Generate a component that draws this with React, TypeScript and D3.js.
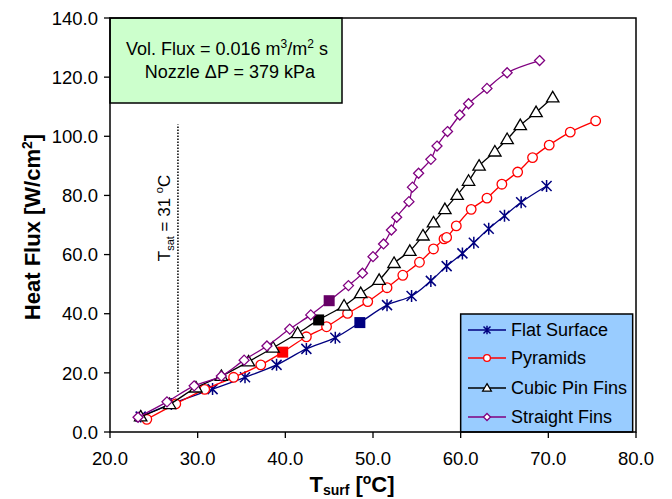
import React from "react";
import * as d3 from "d3";

// series: [T_surf, heat flux]
const flatT = [23.5, 27.0, 31.7, 35.4, 39.0, 42.4, 45.7, 48.5, 51.6, 54.4, 56.6, 58.4, 60.2, 61.5, 63.2, 65.0, 66.9, 69.8];
const flatQ = [5.2, 9.5, 14.5, 18.5, 22.7, 28.1, 31.9, 37.0, 42.9, 46.0, 51.1, 56.1, 60.4, 64.0, 68.7, 73.1, 77.7, 83.2];

const pyrT = [24.2, 27.5, 30.8, 34.1, 37.2, 39.7, 42.4, 44.7, 47.1, 49.4, 51.6, 53.4, 55.3, 56.9, 58.1, 58.4, 59.5, 61.2, 63.0, 64.7, 66.5, 68.2, 70.1, 72.5, 75.4];
const pyrQ = [4.3, 9.5, 14.4, 18.5, 22.7, 27.0, 32.2, 35.6, 40.1, 44.1, 48.8, 53.0, 57.4, 61.9, 65.3, 65.8, 69.7, 75.3, 79.1, 83.8, 87.9, 92.8, 97.0, 101.4, 105.2];

const pinT = [23.5, 26.8, 29.8, 32.7, 35.8, 38.6, 41.4, 43.8, 46.7, 48.6, 50.7, 52.4, 54.2, 55.7, 56.9, 58.2, 59.6, 60.9, 62.1, 63.9, 65.3, 66.8, 68.6, 70.5];
const pinQ = [5.2, 9.4, 15.0, 18.9, 23.8, 28.5, 33.4, 37.9, 42.7, 46.9, 51.4, 57.1, 61.2, 66.4, 70.8, 75.3, 80.1, 84.9, 90.0, 94.8, 99.0, 103.7, 108.1, 113.1];

const finT = [23.2, 26.5, 29.6, 32.7, 35.3, 37.9, 40.5, 42.9, 45.0, 47.2, 48.8, 50.0, 51.2, 52.1, 52.7, 54.1, 54.5, 55.2, 56.6, 57.3, 58.5, 59.9, 60.9, 63.0, 65.3, 69.0];
const finQ = [5.0, 10.2, 15.6, 18.9, 24.3, 29.1, 34.8, 39.6, 44.4, 49.5, 53.7, 59.3, 63.6, 68.3, 72.6, 77.9, 82.8, 87.5, 92.2, 96.7, 101.6, 107.2, 111.0, 116.2, 121.5, 125.6];

const seriesNames = ["Flat Surface", "Pyramids", "Cubic Pin Fins", "Straight Fins"];
const seriesColors = ["#000080", "#ff0000", "#000000", "#800080"];
const squareColors = ["#000080", "#ff0000", "#000000", "#660066"];
const seriesMarkers = ["star", "circle", "triangle", "diamond"];
const onsetIndex = [7, 5, 7, 8];

const xTicks = [20, 30, 40, 50, 60, 70, 80];
const yTicks = [0, 20, 40, 60, 80, 100, 120, 140];

// saturation marker line (in data units)
const tsatX = 27.75;
const tsatQ = [13.5, 104];

const FONT = "'Liberation Sans', Arial, sans-serif";

const Marker = ({ type, x, y, color, s = 1 }) => {
  if (type === "star") {
    const r = 5 * s;
    return (
      <path
        d={`M${x - r},${y - r}L${x + r},${y + r}M${x - r},${y + r}L${x + r},${y - r}M${x},${y - r * 1.2}L${x},${y + r * 1.2}`}
        stroke={color}
        strokeWidth={1.5}
        fill="none"
      />
    );
  }
  if (type === "circle")
    return <circle cx={x} cy={y} r={4.8 * s} fill="white" stroke={color} strokeWidth={1.3} />;
  if (type === "triangle") {
    const h = 6.2 * s;
    return (
      <path
        d={`M${x},${y - h}L${x + h},${y + h * 0.7}L${x - h},${y + h * 0.7}Z`}
        fill="white"
        stroke={color}
        strokeWidth={1.3}
      />
    );
  }
  const r = 5 * s;
  return (
    <path
      d={`M${x},${y - r}L${x + r},${y}L${x},${y + r}L${x - r},${y}Z`}
      fill="white"
      stroke={color}
      strokeWidth={1.3}
    />
  );
};

const App = () => {
  const left = 110,
    right = 636,
    top = 18,
    bottom = 432;
  const x = d3.scaleLinear().domain([20, 80]).range([left, right]);
  const y = d3.scaleLinear().domain([0, 140]).range([bottom, top]);
  const fmt = d3.format(".1f");

  const allT = [flatT, pyrT, pinT, finT];
  const allQ = [flatQ, pyrQ, pinQ, finQ];

  const line = d3.line<number>().curve(d3.curveCatmullRom.alpha(0.5));

  const legendY = [330, 358, 388, 417];

  return (
    <svg
      width={672}
      height={499}
      style={{ position: "absolute", left: 0, top: 0, fontFamily: FONT }}
    >
      <rect x={0} y={0} width={672} height={499} fill="white" />

      {/* info box */}
      <rect x={x(20)} y={top} width={232} height={85} fill="#ccffcc" stroke="black" strokeWidth={1.5} />
      <text x={227} y={55} textAnchor="middle" fontSize={18}>
        Vol. Flux = 0.016 m<tspan dy={-7} fontSize={12}>3</tspan>
        <tspan dy={7}>/m</tspan>
        <tspan dy={-7} fontSize={12}>2</tspan>
        <tspan dy={7}> s</tspan>
      </text>
      <text x={230} y={78} textAnchor="middle" fontSize={18}>
        Nozzle ΔP = 379 kPa
      </text>

      {/* Tsat line */}
      <line
        x1={x(tsatX)}
        x2={x(tsatX)}
        y1={y(tsatQ[0])}
        y2={y(tsatQ[1])}
        stroke="black"
        strokeWidth={1.5}
        strokeDasharray="1.5,1.5"
      />
      <text transform={`translate(170,218) rotate(-90)`} textAnchor="middle" fontSize={17}>
        T<tspan dy={4} fontSize={11}>sat</tspan>
        <tspan dy={-4}> = 31 </tspan>
        <tspan dy={-7} fontSize={11}>o</tspan>
        <tspan dy={7}>C</tspan>
      </text>

      {/* series */}
      {allT.map((ts, si) => {
        const pts = ts.map((t, i) => [x(t), y(allQ[si][i])] as [number, number]);
        return (
          <g key={si}>
            <path d={line(pts) || ""} fill="none" stroke={seriesColors[si]} strokeWidth={1.3} />
            {pts.map((p, i) =>
              i === onsetIndex[si] ? (
                <rect key={i} x={p[0] - 5.5} y={p[1] - 5.5} width={11} height={11} fill={squareColors[si]} />
              ) : (
                <Marker key={i} type={seriesMarkers[si]} x={p[0]} y={p[1]} color={seriesColors[si]} />
              )
            )}
          </g>
        );
      })}

      {/* legend */}
      <rect x={x(60)} y={314} width={172} height={118} fill="#99ccff" stroke="black" strokeWidth={1.5} />
      {seriesNames.map((n, i) => (
        <g key={n}>
          <line x1={468} x2={506} y1={legendY[i]} y2={legendY[i]} stroke={seriesColors[i]} strokeWidth={1.3} />
          <Marker type={seriesMarkers[i]} x={487} y={legendY[i]} color={seriesColors[i]} s={0.7} />
          <text x={511} y={legendY[i]} dy="0.36em" fontSize={18}>
            {n}
          </text>
        </g>
      ))}

      {/* frame */}
      <rect x={left} y={top} width={right - left} height={bottom - top} fill="none" stroke="black" strokeWidth={1.5} />

      {/* axes */}
      {yTicks.map((t) => (
        <g key={t}>
          <line x1={left - 6} x2={left} y1={y(t)} y2={y(t)} stroke="black" strokeWidth={1.3} />
          <text x={left - 12} y={y(t)} dy="0.36em" textAnchor="end" fontSize={18.5}>
            {fmt(t)}
          </text>
        </g>
      ))}
      {xTicks.map((t) => (
        <g key={t}>
          <line x1={x(t)} x2={x(t)} y1={bottom} y2={bottom + 6} stroke="black" strokeWidth={1.3} />
          <text x={x(t)} y={465} textAnchor="middle" fontSize={18.5}>
            {fmt(t)}
          </text>
        </g>
      ))}

      {/* titles */}
      <text x={352} y={492} textAnchor="middle" fontSize={22} fontWeight="bold">
        T<tspan dy={3} fontSize={14}>surf</tspan>
        <tspan dy={-3}> [</tspan>
        <tspan dy={-8} fontSize={14}>o</tspan>
        <tspan dy={8}>C]</tspan>
      </text>
      <text transform={`translate(39.5,227) rotate(-90)`} textAnchor="middle" fontSize={22} fontWeight="bold">
        Heat Flux [W/cm<tspan dy={-8} fontSize={14}>2</tspan>
        <tspan dy={8}>]</tspan>
      </text>
    </svg>
  );
};

export default App;
